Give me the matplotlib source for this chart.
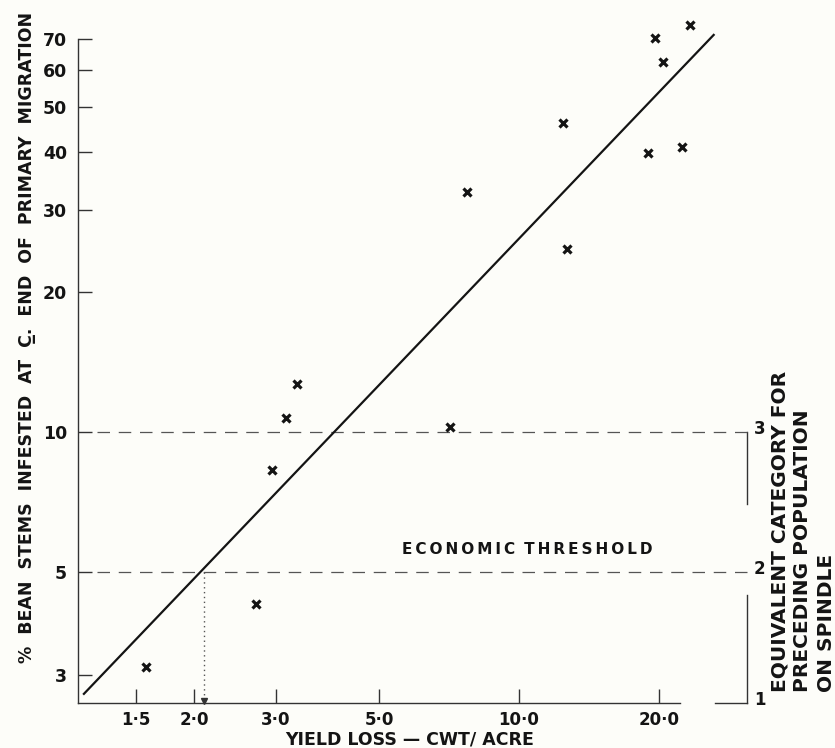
import matplotlib
matplotlib.use("Agg")
import matplotlib.pyplot as plt
from matplotlib.ticker import FixedLocator, NullLocator

plt.rcParams['font.family'] = ['DejaVu Sans']
plt.rcParams['font.weight'] = 'bold'

# ---- data ----
yield_loss = [1.58, 2.72, 2.94, 3.15, 3.33, 7.10, 7.73, 12.4, 12.7, 18.9, 19.6, 20.4, 22.4, 23.3]
pct_infested = [3.12, 4.27, 8.28, 10.7, 12.7, 10.25, 32.8, 46.2, 24.7, 39.8, 70.3, 62.5, 41.0, 75.0]

fit_x = [1.155, 26.3]
fit_y = [2.72, 71.8]

threshold_x = 2.1
threshold_y = 5
category_y = [2.61, 5, 10]
category_labels = ["1", "2", "3"]

x_ticks = [1.5, 2.0, 3.0, 5.0, 10.0, 20.0]
x_tick_labels = ["1\u00b75", "2\u00b70", "3\u00b70", "5\u00b70", "10\u00b70", "20\u00b70"]
y_ticks = [3, 5, 10, 20, 30, 40, 50, 60, 70]
y_tick_labels = ["3", "5", "10", "20", "30", "40", "50", "60", "70"]

x_min, x_max = 1.126, 30.9
y_min, y_max = 2.61, 77.0
x_gap = (22.2, 26.4)
dash_start_x = 1.237
bracket_upper_end = 7.0
bracket_lower_start = 4.46

bg = '#fdfdf9'
ink = '#141414'

fig = plt.figure(figsize=(8.35, 7.48), dpi=100, facecolor=bg)
ax = fig.add_axes([78/835, 45/748, (747-78)/835, (703-20)/748])
ax.set_facecolor(bg)
ax.set_xscale('log')
ax.set_yscale('log')
ax.set_xlim(x_min, x_max)
ax.set_ylim(y_min, y_max)

for s in ['top', 'right']:
    ax.spines[s].set_visible(False)
ax.spines['left'].set_bounds(y_min, 70)
ax.spines['bottom'].set_bounds(x_min, x_gap[0])
for s in ['left', 'bottom']:
    ax.spines[s].set_color('#333333')
    ax.spines[s].set_linewidth(1.0)

ax.xaxis.set_major_locator(FixedLocator(x_ticks))
ax.xaxis.set_minor_locator(NullLocator())
ax.set_xticklabels(x_tick_labels)
ax.yaxis.set_major_locator(FixedLocator(y_ticks))
ax.yaxis.set_minor_locator(NullLocator())
ax.set_yticklabels(y_tick_labels)
ax.tick_params(axis='x', direction='in', length=10, width=1, color='#333333',
               pad=6, labelsize=12, labelcolor=ink)
ax.tick_params(axis='y', direction='in', length=10, width=1, color='#333333',
               pad=8, labelsize=12.5, labelcolor=ink)
for lab in ax.get_xticklabels() + ax.get_yticklabels():
    lab.set_fontweight('bold')

# remaining part of x axis and right-hand bracket
ax.plot([x_gap[1], x_max], [y_min, y_min], color='#333333', lw=1.0, clip_on=False)
ax.plot([x_max, x_max], [category_y[2], bracket_upper_end], color='#333333', lw=1.0, clip_on=False)
ax.plot([x_max, x_max], [bracket_lower_start, y_min], color='#333333', lw=1.0, clip_on=False)

# dashed reference lines
for yv in [category_y[1], category_y[2]]:
    ax.plot([dash_start_x, x_max], [yv, yv], color='#555555', lw=0.9,
            dashes=(10, 7), clip_on=False)

# dotted drop line with arrow
ax.plot([threshold_x, threshold_x], [threshold_y, y_min], color='#555555', lw=1.0,
        linestyle=(0, (1, 2.5)))
ax.plot([threshold_x], [y_min * 1.012], marker='v', color='#333333', markersize=4,
        clip_on=False)

# regression line
ax.plot(fit_x, fit_y, color=ink, lw=1.6, solid_capstyle='butt')

# points
ax.plot(yield_loss, pct_infested, linestyle='none', marker='x', markersize=6,
        markeredgewidth=2.3, color=ink)

# right-hand category numbers
for yv, lab in zip(category_y, category_labels):
    ax.annotate(lab, xy=(x_max, yv), xytext=(5, 2), textcoords='offset points',
                ha='left', va='center', fontsize=12, fontweight='bold', color=ink,
                annotation_clip=False)

def spaced(s, sep='\u2009'):
    return sep.join(list(s))

fig.text(527/835, 1 - 550/748, spaced("ECONOMIC") + "\u2009\u2009\u2009" + spaced("THRESHOLD"),
         ha='center', va='center', fontsize=11, fontweight='bold', color=ink)

fig.text(410/835, 1 - 739/748, "YIELD LOSS \u2014 CWT/ ACRE", ha='center', va='center',
         fontsize=12.5, fontweight='bold', color=ink)

fig.text(27/835, 1 - 337/748,
         "%  BEAN  STEMS  INFESTED  AT  C\u0332.  END  OF  PRIMARY  MIGRATION",
         rotation=90, ha='center', va='center', fontsize=12.5, fontweight='bold', color=ink)

right_lines = ["EQUIVALENT CATEGORY FOR", "PRECEDING POPULATION", "ON SPINDLE"]
right_x = [780, 803, 827]
for txt, px in zip(right_lines, right_x):
    fig.text(px/835, 1 - 692/748, txt, rotation=90, rotation_mode='anchor',
             ha='left', va='center', fontsize=14.5, fontweight='bold', color=ink)

fig.savefig("out.png", dpi=100, facecolor=bg)
